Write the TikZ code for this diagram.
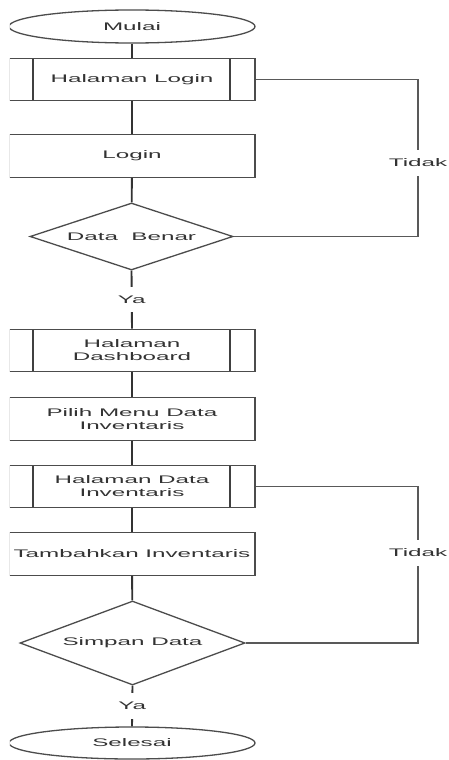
\documentclass[tikz,border=0pt]{standalone}
\usepackage{fontspec}
\usetikzlibrary{shapes.geometric}
\newfontfamily\wfont[FakeStretch=2.2]{Liberation Sans}
\begin{document}
\begin{tikzpicture}[x=1pt,y=1pt,
  txt/.style={text=black!80, font=\wfont\fontsize{11}{13}\selectfont},
  base/.style={txt, draw=black!70, line width=1.3pt, inner sep=0pt, align=center},
  term/.style={base, ellipse, minimum width=246pt, minimum height=33pt},
  proc/.style={base, rectangle, minimum width=246pt, minimum height=42.5pt},
  predef/.style={proc, path picture={\draw[black!75, line width=1.5pt]
     ([xshift=24pt]path picture bounding box.north west) -- ([xshift=24pt]path picture bounding box.south west)
     ([xshift=-25pt]path picture bounding box.north east) -- ([xshift=-25pt]path picture bounding box.south east);}},
  dec/.style={base, diamond, aspect=2.8},
  conn/.style={draw=black!80, line width=1.9pt},
  loopline/.style={draw=black!65, line width=1.2pt},
  lab/.style={txt, fill=white, inner xsep=2pt, inner ysep=9pt}]
\useasboundingbox (0,0) rectangle (448,-760);
\fill[white] (0,0) rectangle (448,-760);
\begin{scope}
\clip (9.8,5) rectangle (450,-765);
\node[term] (mulai) at (132,-26.5) {Mulai};
\node[predef] (hl) at (132,-79.5) {Halaman Login};
\node[proc] (login) at (132,-156) {Login};
\node[dec, minimum width=203pt, minimum height=67pt] (db) at (131.5,-236.5) {Data\ \ Benar};
\node[predef] (dash) at (132,-350.5) {Halaman\\Dashboard};
\node[proc] (pilih) at (132,-419) {Pilih Menu Data\\Inventaris};
\node[predef] (hdi) at (132,-486.5) {Halaman Data\\Inventaris};
\node[proc] (tamb) at (132,-554) {Tambahkan Inventaris};
\node[dec, minimum width=225pt, minimum height=84pt] (sd) at (132.5,-643) {Simpan Data};
\node[term, minimum height=32pt] (selesai) at (132,-743) {Selesai};

\coordinate (c1) at (418,-79.5);
\coordinate (c2) at (418,-236.5);
\coordinate (c3) at (418,-486.5);
\coordinate (c4) at (418,-643);

\draw[conn] (mulai) -- (hl);
\draw[conn] (hl) -- (login);
\draw[conn] (login) -- (db);
\draw[conn] (db.south) -- node[lab]{Ya} (dash.north);
\draw[conn] (dash) -- (pilih);
\draw[conn] (pilih) -- (hdi);
\draw[conn] (hdi) -- (tamb);
\draw[conn] (tamb) -- (sd);
\draw[conn] (sd.south) -- node[lab]{Ya} (selesai.north);
\draw[loopline] (hl.east) -- (c1) -- node[lab, pos=0.53]{Tidak} (c2) -- (db.east);
\draw[loopline] (hdi.east) -- (c3) -- node[lab, pos=0.425]{Tidak} (c4) -- (sd.east);
\end{scope}
\end{tikzpicture}
\end{document}
